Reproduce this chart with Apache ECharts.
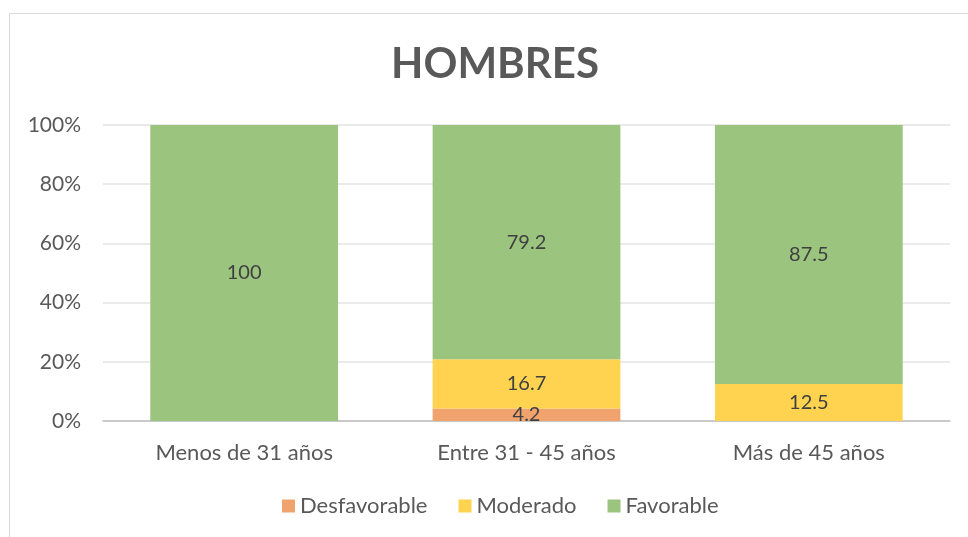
<!DOCTYPE html>
<html lang="es">
<head>
    <meta charset="UTF-8">
    <title>HOMBRES</title>
    <style>
        body { margin: 0; padding: 0; background: #FFFFFF; overflow: hidden; }
        #main_chart { width: 968px; height: 537px; }
    </style>
</head>
<body>
<div id="main_chart"></div>
<script src="https://cdn.jsdelivr.net/npm/echarts@6/dist/echarts.min.js"></script>
<script>
var categories = ['Menos de 31 años', 'Entre 31 - 45 años', 'Más de 45 años'];
var desfavorable = [0, 4.2, 0];
var moderado = [0, 16.7, 12.5];
var favorable = [100, 79.2, 87.5];
var yTicks = [0, 20, 40, 60, 80, 100];

var font = 'Lato';

function seg(name, values, color) {
    return {
        name: name,
        type: 'bar',
        stack: 'total',
        barWidth: '66.5%',
        data: values.map(function (v) { return v === 0 ? null : v; }),
        itemStyle: { color: color },
        label: {
            show: true,
            position: 'inside',
            color: '#404040',
            fontFamily: font,
            fontSize: 20
        }
    };
}

var option = {
    animation: false,
    graphic: [{
        type: 'rect',
        shape: { x: 9.5, y: 13.5, width: 1000, height: 600 },
        style: { fill: null, stroke: '#d9d9d9', lineWidth: 1 },
        silent: true
    }],
    title: {
        text: 'HOMBRES',
        left: 490,
        top: 38,
        textAlign: 'center',
        textStyle: { fontFamily: font, fontWeight: 'bold', fontSize: 42, color: '#595959' }
    },
    legend: {
        bottom: 15,
        left: 277,
        itemWidth: 13,
        itemHeight: 13,
        itemGap: 31,
        itemTextGap: 6,
        icon: 'rect',
        textStyle: { fontFamily: font, fontSize: 22, color: '#595959' },
        data: ['Desfavorable', 'Moderado', 'Favorable']
    },
    grid: { left: 103, right: 18, top: 125, bottom: 116 },
    xAxis: {
        type: 'category',
        data: categories,
        axisTick: { show: false },
        axisLine: { lineStyle: { color: '#bfbfbf', width: 1.5 } },
        axisLabel: { fontFamily: font, fontSize: 22, color: '#595959', margin: 21 }
    },
    yAxis: {
        type: 'value',
        min: yTicks[0],
        max: yTicks[yTicks.length - 1],
        interval: 20,
        axisLabel: { formatter: '{value}%', fontFamily: font, fontSize: 21, color: '#595959', margin: 22 },
        splitLine: { lineStyle: { color: '#e3e3e3', width: 1.5 } },
        axisLine: { show: false },
        axisTick: { show: false }
    },
    series: [
        seg('Desfavorable', desfavorable, '#F1A36E'),
        seg('Moderado', moderado, '#FFD34F'),
        seg('Favorable', favorable, '#9BC47E')
    ]
};

var chart = echarts.init(document.getElementById('main_chart'));
chart.setOption(option);
</script>
</body>
</html>
